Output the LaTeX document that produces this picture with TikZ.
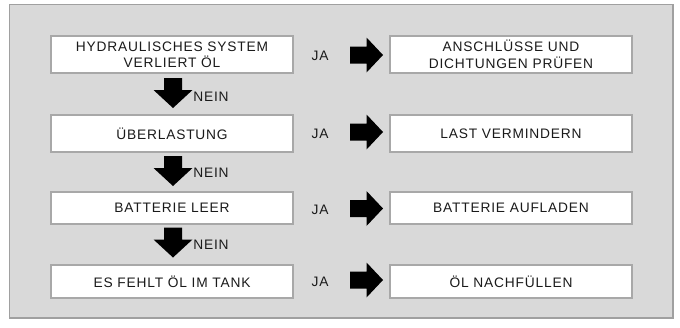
\documentclass[tikz,border=0pt]{standalone}
\usepackage{fontspec}
\setmainfont[LetterSpace=6]{Liberation Sans}
\usetikzlibrary{calc}
\definecolor{panelfill}{HTML}{D9D9D9}
\definecolor{panelline}{HTML}{A0A0A0}
\definecolor{boxline}{HTML}{A8A8A8}
\definecolor{txt}{HTML}{1A1A1A}
\begin{document}
\begin{tikzpicture}[x=1bp,y=-1bp,
  every node/.style={font=\fontsize{13.8}{16.5}\selectfont, text=txt},
  box/.style={draw=boxline, line width=1.5bp, fill=white, minimum width=242bp, inner sep=0pt, align=center},
  lbl/.style={inner sep=0pt},
  rarr/.pic={\fill[black] (-16.5,-8.5) -- (0,-8.5) -- (0,-17.5) -- (16.5,0) -- (0,17.5) -- (0,8.5) -- (-16.5,8.5) -- cycle;},
  darr/.pic={\fill[black] (-9,-15) -- (9,-15) -- (9,-3) -- (19.5,-3) -- (0,15) -- (-19.5,-3) -- (-9,-3) -- cycle;}
]
\useasboundingbox (0,0) rectangle (680,327);
\draw[panelline, fill=panelfill, line width=1.2bp] (9.5,4.5) rectangle (673,318);

% left column
\node[box, minimum height=37bp] (l1) at (172,54.5) {HYDRAULISCHES SYSTEM\\VERLIERT ÖL};
\node[box, minimum height=37bp] (l2) at (172,133.5) {ÜBERLASTUNG};
\node[box, minimum height=32bp] (l3) at (172,208) {BATTERIE LEER};
\node[box, minimum height=33bp] (l4) at (172,281.5) {ES FEHLT ÖL IM TANK};

% right column
\node[box, minimum height=37bp] (r1) at (511,54.5) {ANSCHLÜSSE UND\\DICHTUNGEN PRÜFEN};
\node[box, minimum height=37bp] (r2) at (511,133.5) {LAST VERMINDERN};
\node[box, minimum height=32bp] (r3) at (511,208) {BATTERIE AUFLADEN};
\node[box, minimum height=33bp] (r4) at (511,281.5) {ÖL NACHFÜLLEN};

% JA labels
\node[lbl] (ja1) at (320,56) {JA};
\node[lbl] (ja2) at (320,134) {JA};
\node[lbl] (ja3) at (320,210) {JA};
\node[lbl] (ja4) at (320,282) {JA};

% right block arrows
\pic at (366.5,55) {rarr};
\pic at (366.5,132) {rarr};
\pic at (366.5,208.5) {rarr};
\pic at (366.5,280) {rarr};

% down block arrows
\pic at ($(l1.south)!0.5!(l2.north)+(1,-1)$) {darr};
\pic at ($(l2.south)!0.5!(l3.north)+(1,-1)$) {darr};
\pic at ($(l3.south)!0.5!(l4.north)+(1,-2)$) {darr};

% NEIN labels
\node[lbl] (n1) at (211,97) {NEIN};
\node[lbl] (n2) at (211,173) {NEIN};
\node[lbl] (n3) at (211,245) {NEIN};
\end{tikzpicture}
\end{document}
